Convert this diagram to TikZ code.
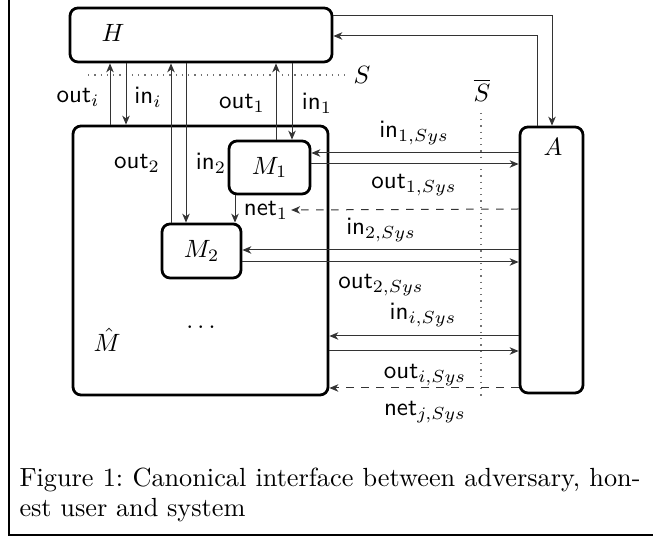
\documentclass[tikz,border=0pt]{standalone}
\usetikzlibrary{arrows.meta}
\begin{document}
\begin{tikzpicture}[x=0.4pt,y=-0.4pt,
  box/.style={draw,line width=1.1pt,rounded corners=3.2pt,inner sep=0pt},
  arr/.style={-{Stealth[length=3.6pt,width=3pt,inset=1.1pt]},line width=0.4pt,black!80},
  darr/.style={arr,dashed},
  lbl/.style={inner sep=1pt,font=\sffamily},
  sep/.style={dotted,line width=0.5pt,black!55},
  captext/.style={anchor=base west,inner sep=0pt,font=\fontsize{10.5pt}{13pt}\selectfont}]
\useasboundingbox (0,0) rectangle (653,538);
% frame of the figure
\draw[line width=0.5pt] (9,-5) -- (9,535) -- (660,535);

% components
\node[box,minimum width=104.8pt,minimum height=21.6pt] (H) at (201,35) {};
\node at (113,33) (Hl) {$H$};
\node[box,minimum width=102pt,minimum height=107.6pt] (Mhat) at (200.5,260.5) {};
\node at (107,340) (Ml) {$\hat M$};
\node at (201,327) (dots) {$\dots$};
\node[box,minimum width=32.4pt,minimum height=21.2pt] (M1) at (269.5,167.5) {$M_1$};
\node[box,minimum width=31.6pt,minimum height=21.6pt] (M2) at (201.5,251) {$M_2$};
\node[box,minimum width=25.2pt,minimum height=106.4pt] (A) at (551.5,260) {};
\node at (553,147) (Al) {$A$};

% separators S and S-bar
\coordinate (s0) at (88,75);
\coordinate (s1) at (345,75);
\draw[sep] (s0) -- (s1);
\node at (362,75) (S) {$S$};
\node at (482,90) (Sb) {$\overline{S}$};
\coordinate (t0) at (481,113);
\coordinate (t1) at (481,400);
\draw[sep] (t0) -- (t1);

% columns and rows of the connectors
\foreach \c in {110,126,171,186,235,276,292,537,552}
  \coordinate (c\c) at (\c,0);
\foreach \r in {16,36,153,164,209,250,262,336,351,388}
  \coordinate (r\r) at (0,\r);

% H <-> A
\draw[arr] (H.east |- r16) -| (A.north -| c552);
\draw[arr] (A.north -| c537) |- (H.east |- r36);

% H <-> system
\draw[arr] (Mhat.north -| c110) -- (H.south -| c110);
\draw[arr] (H.south -| c126) -- (Mhat.north -| c126);
\draw[arr] (M2.north -| c171) -- (H.south -| c171);
\draw[arr] (H.south -| c186) -- (M2.north -| c186);
\draw[arr] (M1.north -| c276) -- (H.south -| c276);
\draw[arr] (H.south -| c292) -- (M1.north -| c292);
\draw[arr] (M1.south -| c235) -- (M2.north -| c235);

\node[lbl] at (78,97) (oi) {out$_i$};
\node[lbl] at (148,97) (ii) {in$_i$};
\node[lbl] at (242,103) (o1) {out$_1$};
\node[lbl] at (317,103) (i1) {in$_1$};
\node[lbl] at (137,163) (o2) {out$_2$};
\node[lbl] at (211,163) (i2) {in$_2$};
\node[lbl] at (266,210) (n1) {net$_1$};

% A <-> system
\draw[arr] (A.west |- r153) -- (M1.east |- r153);
\draw[arr] (M1.east |- r164) -- (A.west |- r164);
\draw[darr] (A.west |- r209) -- (n1.east);
\draw[arr] (A.west |- r250) -- (M2.east |- r250);
\draw[arr] (M2.east |- r262) -- (A.west |- r262);
\draw[arr] (A.west |- r336) -- (Mhat.east |- r336);
\draw[arr] (Mhat.east |- r351) -- (A.west |- r351);
\draw[darr] (A.west |- r388) -- (Mhat.east |- r388);

\node[lbl] at (414,133) (i1s) {in$_{1,Sys}$};
\node[lbl] at (414,185) (o1s) {out$_{1,Sys}$};
\node[lbl] at (381,230) (i2s) {in$_{2,Sys}$};
\node[lbl] at (381,285) (o2s) {out$_{2,Sys}$};
\node[lbl] at (423,315) (iis) {in$_{i,Sys}$};
\node[lbl] at (425,375) (ois) {out$_{i,Sys}$};
\node[lbl] at (425,412) (njs) {net$_{j,Sys}$};

% caption
\node[captext] at (19,487) (cap1)
  {\makebox[248.4pt][s]{Figure 1:\ Canonical interface between adversary, hon-}};
\node[captext] at (19,517) (cap2) {est user and system};
\end{tikzpicture}
\end{document}
